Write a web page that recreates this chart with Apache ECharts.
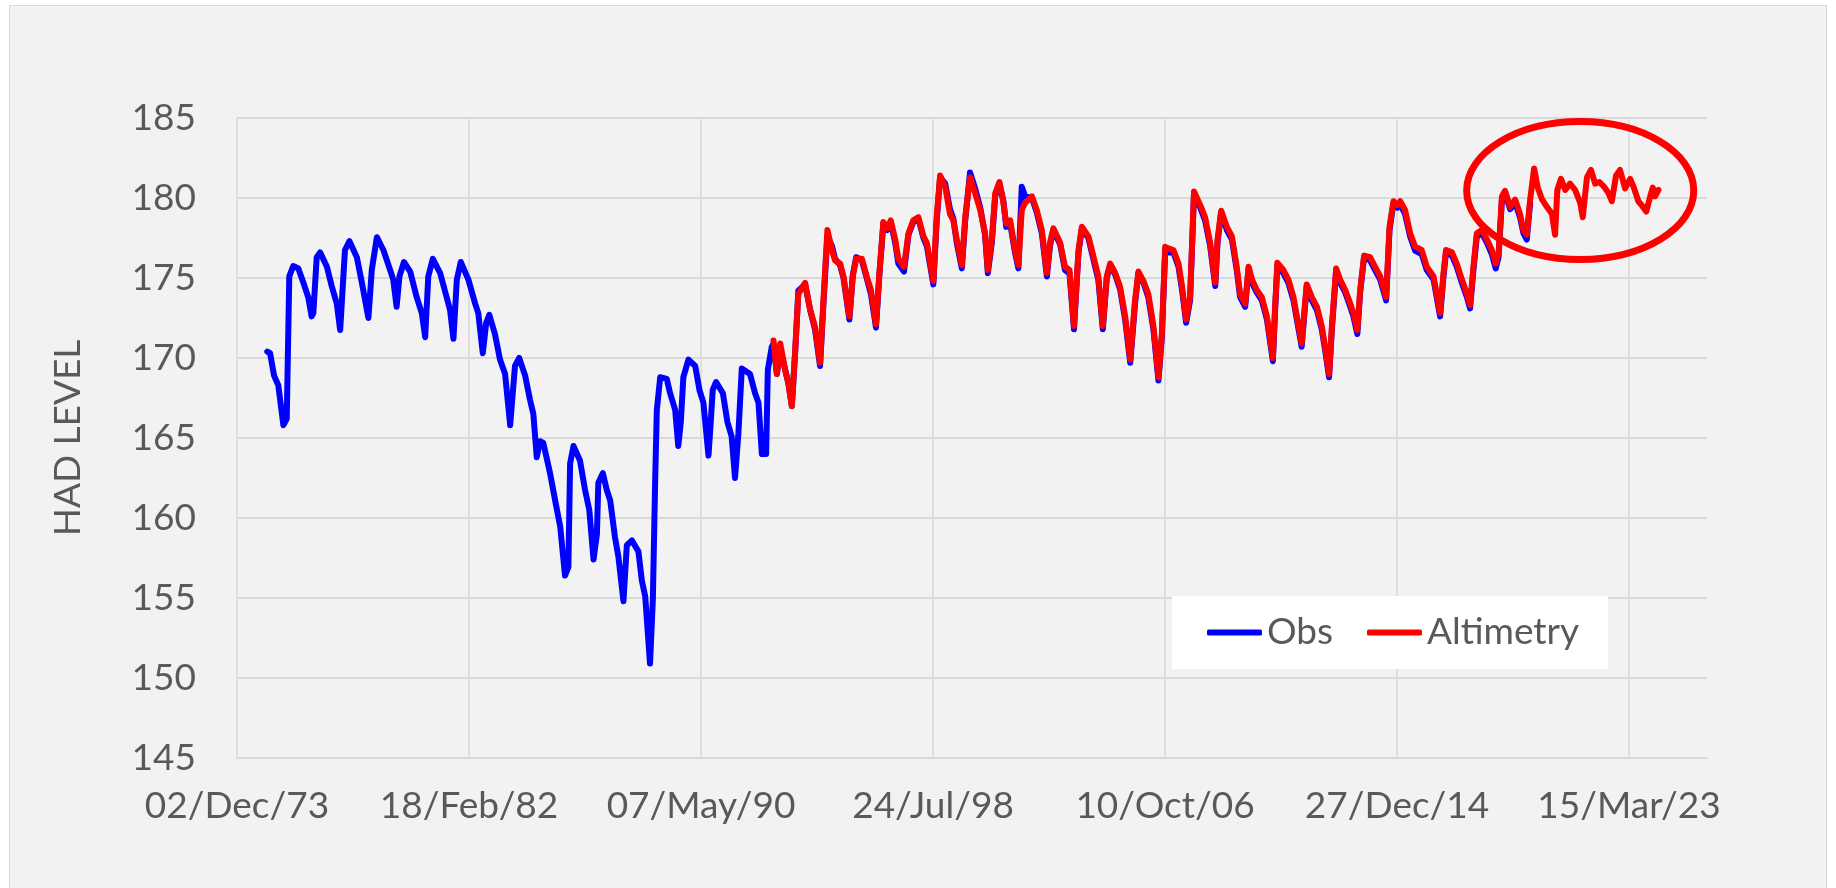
<!doctype html>
<html lang="en">
<head>
    <meta charset="UTF-8">
    <script src="https://cdn.jsdelivr.net/npm/echarts@6/dist/echarts.min.js"></script>
    <title>HAD level</title>
    <style>
        body { margin: 0; background: #fff; }
        #main { position: absolute; left: 9px; top: 5px; width: 1818px; height: 890px;
                border: 1px solid #d9d9d9; box-sizing: border-box; }
    </style>
</head>
<body>
<div id="main"></div>
<script type="text/javascript">
    // x tick labels (Excel date axis, one every 3000 days from 02/Dec/73)
    var xTickLabels = ['02/Dec/73', '18/Feb/82', '07/May/90', '24/Jul/98', '10/Oct/06', '27/Dec/14', '15/Mar/23'];

    // [decimal year, level]
    var obsData = [
        [1974.99,170.4],[1975.09,170.3],[1975.23,168.9],[1975.38,168.3],[1975.56,165.8],[1975.68,166.2],
        [1975.77,175.1],[1975.91,175.75],[1976.09,175.6],[1976.27,174.7],[1976.44,173.8],[1976.56,172.6],
        [1976.62,172.8],[1976.74,176.3],[1976.86,176.6],[1977.10,175.7],[1977.27,174.5],[1977.45,173.4],
        [1977.57,171.75],[1977.74,176.75],[1977.90,177.3],[1978.16,176.3],[1978.34,174.7],[1978.57,172.5],
        [1978.69,175.5],[1978.87,177.55],[1979.10,176.75],[1979.34,175.5],[1979.45,174.9],[1979.57,173.2],
        [1979.67,175.1],[1979.83,176.0],[1980.05,175.4],[1980.28,173.8],[1980.46,172.8],[1980.58,171.3],
        [1980.69,175.1],[1980.85,176.2],[1981.11,175.3],[1981.34,173.8],[1981.46,173.0],[1981.58,171.2],
        [1981.70,174.9],[1981.84,176.0],[1982.11,174.9],[1982.35,173.4],[1982.46,172.8],[1982.62,170.3],
        [1982.74,172.2],[1982.85,172.7],[1983.05,171.5],[1983.23,169.9],[1983.41,169.0],[1983.59,165.8],
        [1983.76,169.5],[1983.91,170.0],[1984.12,168.9],[1984.29,167.4],[1984.41,166.5],[1984.53,163.8],
        [1984.65,164.8],[1984.76,164.7],[1985.00,162.8],[1985.18,161.1],[1985.36,159.45],[1985.53,156.4],
        [1985.65,156.95],[1985.71,163.4],[1985.83,164.5],[1986.06,163.6],[1986.24,161.75],[1986.39,160.5],
        [1986.54,157.4],[1986.66,159.0],[1986.71,162.2],[1986.87,162.8],[1987.01,161.75],[1987.13,161.1],
        [1987.30,158.8],[1987.42,157.6],[1987.60,154.8],[1987.72,158.3],[1987.90,158.6],[1988.13,157.9],
        [1988.25,156.1],[1988.37,155.1],[1988.54,150.9],[1988.64,154.9],[1988.72,162.2],[1988.78,166.75],
        [1988.90,168.8],[1989.13,168.7],[1989.25,167.8],[1989.43,166.75],[1989.54,164.5],[1989.63,166.0],
        [1989.72,168.8],[1989.90,169.9],[1990.14,169.5],[1990.29,168.0],[1990.43,167.2],[1990.61,163.9],
        [1990.69,166.0],[1990.76,168.0],[1990.88,168.5],[1991.12,167.8],[1991.28,166.0],[1991.43,165.1],
        [1991.55,162.5],[1991.67,165.3],[1991.79,169.35],[1992.08,169.0],[1992.26,167.8],[1992.38,167.2],
        [1992.50,164.0],[1992.65,164.0],[1992.71,169.25],[1992.85,170.7],
        [1992.91,170.9],[1993.03,169.0],[1993.15,170.6],[1993.32,169.3],[1993.44,168.4],[1993.56,167.0],
        [1993.68,170.4],[1993.79,174.2],[1994.03,174.6],[1994.21,173.0],[1994.38,171.8],[1994.56,169.5],
        [1994.68,173.4],[1994.82,177.6],[1994.98,177.0],[1995.09,176.2],[1995.27,175.8],[1995.39,175.0],
        [1995.60,172.4],[1995.72,175.2],[1995.84,176.3],[1996.04,176.1],[1996.21,175.0],[1996.36,174.0],
        [1996.54,171.9],[1996.66,175.2],[1996.80,178.4],[1996.94,178.0],[1997.06,178.5],[1997.22,177.2],
        [1997.33,175.9],[1997.53,175.4],[1997.69,177.7],[1997.86,178.5],[1998.04,178.7],[1998.22,177.5],
        [1998.34,177.0],[1998.57,174.6],[1998.69,178.6],[1998.81,181.3],[1998.99,180.9],[1999.16,179.3],
        [1999.28,178.7],[1999.40,177.2],[1999.58,175.6],[1999.70,178.6],[1999.87,181.6],[2000.05,180.6],
        [2000.23,179.4],[2000.40,177.7],[2000.50,175.3],[2000.64,177.2],[2000.76,180.1],[2000.91,180.9],
        [2001.05,179.8],[2001.15,178.2],[2001.29,178.4],[2001.46,176.6],[2001.58,175.6],[2001.70,180.7],
        [2001.82,180.1],[2002.06,180.0],[2002.23,179.1],[2002.41,177.8],[2002.59,175.1],[2002.70,177.0],
        [2002.82,178.0],[2003.06,177.1],[2003.23,175.5],[2003.39,175.3],[2003.55,171.8],[2003.71,176.6],
        [2003.83,178.1],[2004.06,177.5],[2004.30,175.7],[2004.41,174.9],[2004.57,171.8],[2004.71,175.0],
        [2004.83,175.8],[2005.01,175.2],[2005.18,174.3],[2005.36,172.4],[2005.54,169.7],[2005.71,173.4],
        [2005.83,175.3],[2006.01,174.7],[2006.18,173.8],[2006.36,171.8],[2006.54,168.6],[2006.66,171.3],
        [2006.78,176.8],[2006.89,176.6],[2007.07,176.6],[2007.25,175.7],[2007.38,174.2],[2007.52,172.2],
        [2007.66,173.6],[2007.80,180.3],[2008.02,179.4],[2008.19,178.6],[2008.37,177.0],[2008.55,174.5],
        [2008.63,177.2],[2008.76,179.1],[2008.96,178.0],[2009.14,177.4],[2009.31,175.5],[2009.43,173.8],
        [2009.61,173.2],[2009.73,175.6],[2009.85,174.7],[2010.02,174.1],[2010.20,173.6],[2010.38,172.4],
        [2010.59,169.8],[2010.67,173.0],[2010.75,175.8],[2010.96,175.3],[2011.14,174.7],[2011.32,173.6],
        [2011.46,172.2],[2011.61,170.7],[2011.70,172.6],[2011.79,174.5],[2011.97,173.6],[2012.15,173.0],
        [2012.32,171.8],[2012.44,170.5],[2012.58,168.8],[2012.68,171.8],[2012.83,175.5],[2012.97,174.7],
        [2013.15,174.1],[2013.33,173.2],[2013.44,172.6],[2013.58,171.5],[2013.68,174.1],[2013.82,176.3],
        [2014.03,176.1],[2014.21,175.5],[2014.39,174.9],[2014.60,173.6],[2014.72,178.0],[2014.86,179.7],
        [2015.00,179.4],[2015.10,179.6],[2015.27,179.0],[2015.45,177.6],[2015.63,176.7],[2015.86,176.5],
        [2016.04,175.5],[2016.28,174.9],[2016.51,172.6],[2016.63,175.1],[2016.72,176.6],[2016.93,176.4],
        [2017.10,175.7],[2017.28,174.7],[2017.46,173.8],[2017.57,173.1],[2017.69,175.5],[2017.81,177.6],
        [2017.99,177.8],[2018.17,177.2],[2018.34,176.5],[2018.48,175.6],[2018.58,176.3],[2018.70,179.9],
        [2018.81,180.3],[2018.99,179.3],[2019.17,179.7],[2019.34,178.8],[2019.46,177.8],[2019.58,177.4],
        [2019.70,179.7]
    ];

    var altData = [
        [1992.91,171.1],[1993.03,169.0],[1993.15,170.9],[1993.32,169.25],[1993.44,168.4],[1993.56,167.0],
        [1993.68,170.5],[1993.79,174.0],[1994.03,174.7],[1994.21,173.0],[1994.38,171.95],[1994.56,169.7],
        [1994.68,173.6],[1994.82,178.0],[1994.98,176.75],[1995.09,176.1],[1995.27,175.9],[1995.39,175.1],
        [1995.60,172.6],[1995.72,175.1],[1995.84,176.2],[1996.04,176.2],[1996.21,175.1],[1996.36,174.25],
        [1996.54,172.1],[1996.66,175.3],[1996.80,178.5],[1996.94,178.1],[1997.06,178.6],[1997.22,177.4],
        [1997.33,176.2],[1997.53,175.7],[1997.69,177.8],[1997.86,178.6],[1998.04,178.8],[1998.22,177.6],
        [1998.34,177.2],[1998.57,174.8],[1998.69,178.8],[1998.81,181.4],[1998.99,180.7],[1999.16,179.0],
        [1999.28,178.6],[1999.40,177.4],[1999.58,175.8],[1999.70,178.8],[1999.87,181.3],[2000.05,180.3],
        [2000.23,179.25],[2000.40,177.8],[2000.50,175.5],[2000.64,177.4],[2000.76,180.3],[2000.91,181.0],
        [2001.05,179.7],[2001.15,178.4],[2001.29,178.6],[2001.46,176.75],[2001.58,175.8],[2001.70,179.25],
        [2001.82,179.7],[2002.06,180.1],[2002.23,179.25],[2002.41,178.0],[2002.59,175.3],[2002.70,177.2],
        [2002.82,178.1],[2003.06,177.2],[2003.23,175.7],[2003.39,175.5],[2003.55,172.0],[2003.71,176.75],
        [2003.83,178.2],[2004.06,177.6],[2004.30,175.9],[2004.41,175.1],[2004.57,172.0],[2004.71,175.1],
        [2004.83,175.9],[2005.01,175.3],[2005.18,174.45],[2005.36,172.6],[2005.54,169.9],[2005.71,173.6],
        [2005.83,175.4],[2006.01,174.8],[2006.18,174.0],[2006.36,172.0],[2006.54,168.8],[2006.66,171.5],
        [2006.78,176.95],[2006.89,176.85],[2007.07,176.75],[2007.25,175.9],[2007.38,174.4],[2007.52,172.4],
        [2007.66,173.8],[2007.80,180.4],[2008.02,179.55],[2008.19,178.8],[2008.37,177.2],[2008.55,174.7],
        [2008.63,177.4],[2008.76,179.2],[2008.96,178.2],[2009.14,177.6],[2009.31,175.7],[2009.43,174.0],
        [2009.61,173.4],[2009.73,175.7],[2009.85,174.9],[2010.02,174.25],[2010.20,173.8],[2010.38,172.6],
        [2010.59,170.0],[2010.67,173.2],[2010.75,175.95],[2010.96,175.5],[2011.14,174.9],[2011.32,173.8],
        [2011.46,172.4],[2011.61,170.9],[2011.70,172.8],[2011.79,174.6],[2011.97,173.8],[2012.15,173.2],
        [2012.32,172.0],[2012.44,170.7],[2012.58,169.0],[2012.68,172.0],[2012.83,175.6],[2012.97,174.9],
        [2013.15,174.25],[2013.33,173.4],[2013.44,172.8],[2013.58,171.75],[2013.68,174.25],[2013.82,176.4],
        [2014.03,176.3],[2014.21,175.7],[2014.39,175.1],[2014.60,173.8],[2014.72,178.2],[2014.86,179.8],
        [2015.00,179.55],[2015.10,179.8],[2015.27,179.25],[2015.45,177.8],[2015.63,176.95],[2015.86,176.75],
        [2016.04,175.7],[2016.28,175.1],[2016.51,172.8],[2016.63,175.3],[2016.72,176.75],[2016.93,176.6],
        [2017.10,175.9],[2017.28,174.9],[2017.46,174.0],[2017.57,173.3],[2017.69,175.7],[2017.81,177.8],
        [2017.99,178.0],[2018.17,177.4],[2018.34,176.75],[2018.48,175.9],[2018.58,176.5],[2018.70,180.1],
        [2018.81,180.45],[2018.99,179.45],[2019.17,179.9],[2019.34,179.0],[2019.46,178.0],[2019.58,177.7],
        [2019.70,179.9],[2019.84,181.85],[2019.96,180.7],[2020.11,179.95],[2020.29,179.45],[2020.47,179.0],
        [2020.58,177.7],[2020.66,180.5],[2020.79,181.2],[2020.94,180.5],[2021.11,180.9],[2021.29,180.5],
        [2021.47,179.7],[2021.56,178.8],[2021.71,181.3],[2021.85,181.75],[2022.00,180.9],[2022.15,181.0],
        [2022.32,180.7],[2022.47,180.3],[2022.59,179.8],[2022.74,181.4],[2022.88,181.75],[2023.06,180.6],
        [2023.24,181.2],[2023.36,180.7],[2023.53,179.8],[2023.65,179.55],[2023.81,179.15],[2023.95,180.1],
        [2024.04,180.65],[2024.12,180.1],[2024.24,180.5]
    ];

    // highlighted zone (red ellipse), in data units
    var highlight = { year: 2021.47, level: 180.47, halfYears: 4.02, halfLevel: 4.31 };

    var FONT = 'Lato';
    var TEXT = '#595959';
    var GRID = '#d9d9d9';

    // decimal year -> Excel serial day number
    function toSerial(yr) {
        var y = Math.floor(yr);
        var start = Date.UTC(y, 0, 1), end = Date.UTC(y + 1, 0, 1);
        return (start + (yr - y) * (end - start)) / 86400000 + 25569;
    }
    function toSeries(arr) {
        return arr.map(function (p) { return [toSerial(p[0]), p[1]]; });
    }

    var myChart = echarts.init(document.getElementById('main'));

    var option = {
        animation: false,
        backgroundColor: '#f2f2f2',
        grid: { left: 227, top: 112, width: 1470, height: 640 },
        legend: {
            data: ['Obs', 'Altimetry'],
            left: 1162, top: 590,
            backgroundColor: '#ffffff',
            padding: [18, 29, 18, 35],
            icon: 'roundRect',
            itemWidth: 55, itemHeight: 6, itemGap: 34,
            textStyle: { fontFamily: FONT, fontSize: 37, color: TEXT }
        },
        xAxis: {
            type: 'value',
            min: 27000, max: 46008, interval: 3000,
            axisLine: { show: true, lineStyle: { color: GRID, width: 2 } },
            axisTick: { show: false },
            splitLine: { show: true, showMaxLine: false, lineStyle: { color: GRID, width: 1.5 } },
            axisLabel: {
                showMaxLabel: false,
                margin: 30,
                fontFamily: FONT, fontSize: 37, color: TEXT,
                formatter: function (v) {
                    var i = (v - 27000) / 3000;
                    return (i === Math.round(i) && xTickLabels[i]) ? xTickLabels[i] : '';
                }
            }
        },
        yAxis: {
            type: 'value',
            min: 145, max: 185, interval: 5,
            name: 'HAD LEVEL',
            nameLocation: 'middle', nameRotate: 90, nameGap: 150,
            nameTextStyle: { fontFamily: FONT, fontSize: 37, color: TEXT },
            axisLine: { show: false },
            axisTick: { show: false },
            splitLine: { lineStyle: { color: GRID, width: 2 } },
            axisLabel: { margin: 41, fontFamily: FONT, fontSize: 37, color: TEXT }
        },
        series: [{
            name: 'Obs',
            type: 'line',
            data: toSeries(obsData),
            showSymbol: false, symbol: 'none',
            color: '#0000ff',
            lineStyle: { width: 6, color: '#0000ff', join: 'round', cap: 'round' }
        }, {
            name: 'Altimetry',
            type: 'line',
            data: toSeries(altData),
            showSymbol: false, symbol: 'none',
            color: '#ff0000',
            lineStyle: { width: 6, color: '#ff0000', join: 'round', cap: 'round' }
        }]
    };

    myChart.setOption(option);

    var c = myChart.convertToPixel({ gridIndex: 0 }, [toSerial(highlight.year), highlight.level]);
    var e = myChart.convertToPixel({ gridIndex: 0 },
        [toSerial(highlight.year + highlight.halfYears), highlight.level + highlight.halfLevel]);
    myChart.setOption({
        graphic: [{
            type: 'ellipse',
            z: 100,
            shape: { cx: c[0], cy: c[1], rx: e[0] - c[0], ry: c[1] - e[1] },
            style: { fill: 'none', stroke: '#ff0000', lineWidth: 7 }
        }]
    });
</script>
</body>
</html>
